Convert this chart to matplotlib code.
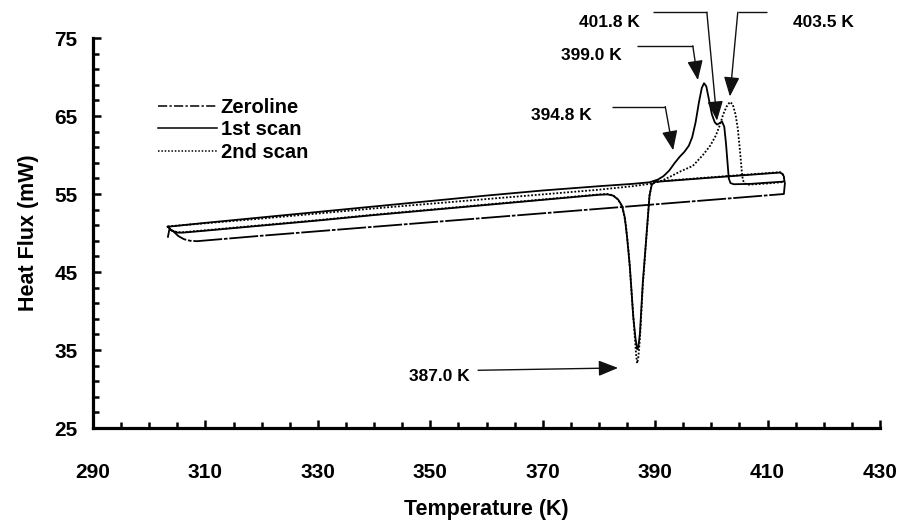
import matplotlib
matplotlib.use("Agg")
import matplotlib.pyplot as plt
from matplotlib.ticker import FixedLocator
from matplotlib.lines import Line2D

plt.rcParams['font.family'] = ['Liberation Sans', 'DejaVu Sans']
plt.rcParams['font.weight'] = 'bold'

# ---------------- data ----------------
zero_T = [303.3, 303.6, 304.3, 305.2, 306.2, 307.3, 308.5, 320, 340, 360, 380, 400, 412.9, 413.1]
zero_HF = [49.4, 50.5, 50.2, 49.6, 49.2, 49.0, 48.95, 49.65, 50.8, 51.95, 53.1, 54.25, 55.0, 56.5]

scan1_T = [303.3, 310, 320, 330, 340, 350, 360, 370, 380, 386, 389, 390.5, 391.5, 392.5, 393.5,
           394.4, 395.2, 396.0, 396.6, 397.2, 397.8, 398.3, 398.7, 399.1, 399.6, 400.1, 400.6,
           401.0, 401.5, 401.9, 402.3, 402.6, 402.9, 403.1, 403.4, 404.0, 407, 410, 413,
           412.9, 412.6, 412.2, 400, 390, 389.4, 389.0, 388.5, 387.8, 387.3, 387.0, 386.8,
           386.5, 386.1, 385.5, 385.0, 384.6, 384.1, 383.4, 382.5, 381.5, 380, 370, 360, 350,
           340, 330, 320, 310, 306, 305, 304, 303.3]
scan1_HF = [50.8, 51.3, 52.0, 52.7, 53.4, 54.1, 54.8, 55.45, 56.0, 56.3, 56.5, 56.85, 57.3, 58.0, 59.0,
            59.8, 60.4, 61.2, 62.3, 64.2, 66.8, 68.6, 69.2, 68.8, 67.0, 65.2, 64.2,
            63.9, 64.1, 64.3, 63.6, 61.5, 58.8, 57.0, 56.4, 56.25, 56.3, 56.45, 56.6,
            57.25, 57.6, 57.75, 57.1, 56.55, 56.2, 54.8, 50.1, 43.6, 37.2, 35.3, 35.1,
            36.5, 39.3, 45.7, 49.5, 52.0, 53.5, 54.3, 54.8, 54.95, 54.9, 54.25, 53.6, 52.95,
            52.3, 51.6, 50.95, 50.3, 50.05, 50.05, 50.3, 50.8]

scan2_T = [303.3, 310, 320, 330, 340, 350, 360, 370, 380, 386, 389, 391, 392.6, 394.5, 396.7,
           398.5, 399.8, 400.8, 401.5, 402.1, 402.7, 403.3, 403.8, 404.3, 404.7, 405.1, 405.4,
           405.6, 405.9, 406.6, 410, 413,
           412.9, 412.6, 412.2, 400, 390, 389.4, 389.0, 388.5, 387.8, 387.3, 387.0, 386.8,
           386.6, 386.3, 385.8, 385.3, 384.8, 384.2, 383.4, 382.5, 381.5, 380, 370, 360, 350,
           340, 330, 320, 310, 306, 305, 304, 303.3]
scan2_HF = [50.85, 51.25, 51.85, 52.5, 53.15, 53.75, 54.35, 54.95, 55.55, 56.0, 56.3, 56.65, 57.2, 57.9, 58.6,
            60.0, 61.2, 62.5, 63.8, 65.2, 66.2, 66.8, 66.5, 65.2, 63.4, 60.5, 58.0,
            56.8, 56.35, 56.2, 56.35, 56.55,
            57.3, 57.65, 57.8, 57.15, 56.6, 56.25, 54.8, 50.0, 43.2, 36.5, 34.0, 33.3,
            34.5, 37.5, 42.5, 47.5, 51.0, 53.3, 54.3, 54.85, 55.0, 54.95, 54.3, 53.65, 53.0,
            52.35, 51.65, 51.0, 50.35, 50.1, 50.1, 50.35, 50.8]

series_labels = ['Zeroline', '1st scan', '2nd scan']

x_ticks = [290, 310, 330, 350, 370, 390, 410, 430]
y_ticks = [25, 35, 45, 55, 65, 75]

# annotations: label, target temperature, target heat flux
ann_labels = ['401.8 K', '403.5 K', '399.0 K', '394.8 K', '387.0 K']
ann_tip_T = [401.0, 403.3, 397.6, 393.2, 383.4]
ann_tip_HF = [64.4, 67.5, 69.6, 60.6, 32.7]

# ---------------- layout ----------------
ann_text_pos = [(381.8, 77.0), (420.0, 77.0), (378.7, 72.8), (373.4, 65.1), (351.6, 31.6)]
ann_line_start = [(389.6, 78.3), (409.9, 78.3), (386.8, 74.0), (382.3, 66.2), (358.5, 32.4)]
ann_corner = [(399.2, 78.3), (404.7, 78.3), (396.7, 74.0), (391.8, 66.2), None]

fig = plt.figure(figsize=(8.99, 5.30), dpi=100)
ax = fig.add_axes([93/899, 1-428/530, 787/899, 390/530])

lw = 1.3
zero_style = (0, (16, 1.0, 2, 1.0))
dot_style = (0, (1, 1.0))
ax.plot(zero_T, zero_HF, color='black', lw=lw, linestyle=zero_style)
ax.plot(scan1_T, scan1_HF, color='black', lw=lw, linestyle='-')
ax.plot(scan2_T, scan2_HF, color='black', lw=lw, linestyle=dot_style)

ax.set_xlim(290, 430)
ax.set_ylim(25, 75)

for s in ['top', 'right']:
    ax.spines[s].set_visible(False)
for s in ['left', 'bottom']:
    ax.spines[s].set_linewidth(2.3)

ax.xaxis.set_major_locator(FixedLocator(x_ticks))
ax.xaxis.set_minor_locator(FixedLocator([290 + 5 * i for i in range(29)]))
ax.yaxis.set_major_locator(FixedLocator(y_ticks))
ax.yaxis.set_minor_locator(FixedLocator([25 + 2 * i for i in range(26)]))

ax.tick_params(axis='both', which='both', direction='in', width=1.8, colors='black')
ax.tick_params(axis='both', which='major', length=5.5)
ax.tick_params(axis='both', which='minor', length=4)
ax.tick_params(axis='x', which='major', pad=25, labelsize=15)
ax.tick_params(axis='y', which='major', pad=11, labelsize=15)
for t in ax.get_xticklabels() + ax.get_yticklabels():
    t.set_fontweight('bold')

ax.set_xlabel('Temperature (K)', fontsize=15.5, fontweight='bold')
ax.set_ylabel('Heat Flux (mW)', fontsize=15.5, fontweight='bold')
ax.xaxis.set_label_coords(0.5, -0.182)
ax.yaxis.set_label_coords(-0.068, 0.5)

handles = [Line2D([], [], color='black', lw=1.1, linestyle=(0, (6, 1.5, 1.5, 1.5))),
           Line2D([], [], color='black', lw=1.1, linestyle='-'),
           Line2D([], [], color='black', lw=1.1, linestyle=(0, (1, 1.2)))]
leg = ax.legend(handles, series_labels, loc='upper left', bbox_to_anchor=(0.083, 0.847),
                frameon=False, borderpad=0, borderaxespad=0, handlelength=2.9,
                handletextpad=0.2, labelspacing=0.18,
                prop={'size': 14.5, 'weight': 'bold'})

for i, lab in enumerate(ann_labels):
    tx, ty = ann_text_pos[i]
    ax.text(tx, ty, lab, ha='center', va='center', fontsize=12.5, fontweight='bold',
            clip_on=False)
    sx, sy = ann_line_start[i]
    corner = ann_corner[i]
    if corner is not None:
        ax.plot([sx, corner[0]], [sy, corner[1]], color='#111111', lw=1.0, clip_on=False,
                solid_capstyle='butt')
        start = corner
    else:
        start = (sx, sy)
    ax.annotate('', xy=(ann_tip_T[i], ann_tip_HF[i]), xytext=start, annotation_clip=False,
                arrowprops=dict(arrowstyle='-|>,head_length=1.0,head_width=0.4',
                                color='#111111', lw=1.0, shrinkA=0, shrinkB=0,
                                mutation_scale=12))

fig.savefig('out.png', dpi=100)
